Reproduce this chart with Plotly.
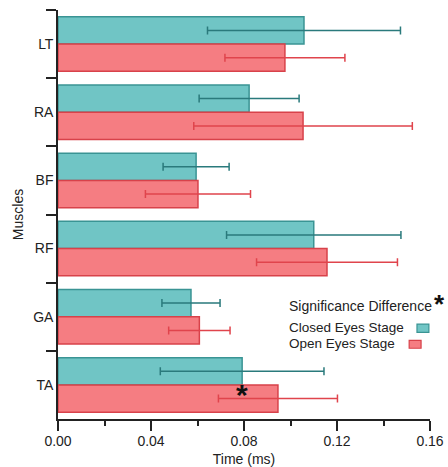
import plotly.graph_objects as go

muscles = ["LT", "RA", "BF", "RF", "GA", "TA"]
closed_vals = [0.1058, 0.0822, 0.0594, 0.1100, 0.0572, 0.0792]
closed_err = [0.0415, 0.0215, 0.0142, 0.0375, 0.0125, 0.0352]
open_vals = [0.0976, 0.1054, 0.0602, 0.1157, 0.0608, 0.0946]
open_err = [0.0258, 0.0470, 0.0226, 0.0303, 0.0132, 0.0256]
x_ticks = [0.00, 0.04, 0.08, 0.12, 0.16]
sig_muscle = "TA"

teal_fill = "rgba(104,194,194,0.95)"
teal_line = "#3a9494"
teal_err = "#2a7a7c"
red_fill = "rgba(244,118,123,0.95)"
red_line = "#d8424a"
red_err = "#e0444c"
font = "Liberation Sans, Arial, sans-serif"

fig = go.Figure()
fig.add_trace(go.Bar(
    y=muscles, x=closed_vals, orientation="h", name="Closed Eyes Stage",
    marker=dict(color=teal_fill, line=dict(color=teal_line, width=1.5)),
    error_x=dict(type="data", array=closed_err, color=teal_err, thickness=1.5, width=4),
))
fig.add_trace(go.Bar(
    y=muscles, x=open_vals, orientation="h", name="Open Eyes Stage",
    marker=dict(color=red_fill, line=dict(color=red_line, width=1.5)),
    error_x=dict(type="data", array=open_err, color=red_err, thickness=1.5, width=4),
))

fig.update_layout(
    width=448, height=467,
    margin=dict(l=58, r=18, t=10, b=48),
    paper_bgcolor="white", plot_bgcolor="white",
    barmode="group", bargap=0.2, bargroupgap=0.0,
    showlegend=False,
    font=dict(family=font, size=14, color="#222"),
)
fig.update_yaxes(
    type="category", categoryorder="array", categoryarray=muscles,
    autorange="reversed", tickson="boundaries",
    ticks="outside", ticklen=10, tickwidth=1.5, tickcolor="#222",
    showline=True, linecolor="#222", linewidth=1.5, showgrid=False,
    automargin=False,
    title=dict(text="Muscles", font=dict(size=14), standoff=6),
)
fig.update_xaxes(
    range=[0, 0.16], tickvals=x_ticks, tickformat=".2f",
    ticks="outside", ticklen=10, tickwidth=1.5, tickcolor="#222",
    ticklabelstandoff=-2,
    minor=dict(dtick=0.02, tick0=0, ticks="outside", ticklen=5, tickwidth=1.5, tickcolor="#222"),
    showline=True, linecolor="#222", linewidth=1.5, showgrid=False, zeroline=False,
    automargin=False,
    title=dict(text="Time (ms)", font=dict(size=14), standoff=14),
)

# significance star on TA
sig_i = muscles.index(sig_muscle)
fig.add_annotation(x=closed_vals[sig_i], y=sig_muscle, text="<b>*</b>", showarrow=False,
                   font=dict(size=30, color="#111"), yshift=-10)

# custom legend
fig.add_annotation(xref="paper", yref="paper", x=0.616, y=0.276, xanchor="left", yanchor="middle",
                   text="Significance Difference", showarrow=False, font=dict(size=14))
fig.add_annotation(xref="paper", yref="paper", x=1.025, y=0.285, xanchor="center", yanchor="middle",
                   text="<b>*</b>", showarrow=False, font=dict(size=26, color="#111"), yshift=-2)
fig.add_annotation(xref="paper", yref="paper", x=0.616, y=0.223, xanchor="left", yanchor="middle",
                   text="Closed Eyes Stage", showarrow=False, font=dict(size=13.5))
fig.add_annotation(xref="paper", yref="paper", x=0.616, y=0.184, xanchor="left", yanchor="middle",
                   text="Open Eyes Stage", showarrow=False, font=dict(size=13.5))
fig.add_shape(type="rect", xref="paper", yref="paper", x0=0.965, x1=0.997, y0=0.212, y1=0.232,
              fillcolor=teal_fill, line=dict(color=teal_line, width=1.2))
fig.add_shape(type="rect", xref="paper", yref="paper", x0=0.944, x1=0.976, y0=0.173, y1=0.192,
              fillcolor=red_fill, line=dict(color=red_line, width=1.2))

fig.write_html("out.html")
